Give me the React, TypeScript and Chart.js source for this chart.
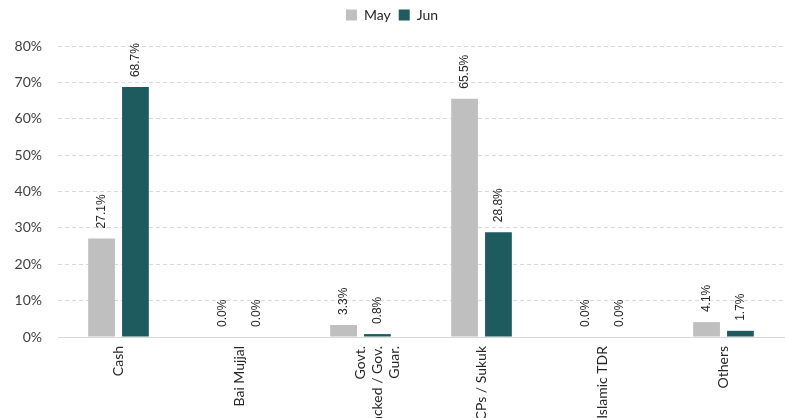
import React, { useEffect, useRef } from "react";
import { Chart, registerables } from "chart.js";

Chart.register(...registerables);

const categories: (string | string[])[] = [
  "Cash",
  "Bai Mujjal",
  ["Govt.", "Backed / Gov.", "Guar."],
  "CPs / Sukuk",
  "Islamic TDR",
  "Others",
];
const mayValues = [27.1, 0.0, 3.3, 65.5, 0.0, 4.1];
const junValues = [68.7, 0.0, 0.8, 28.8, 0.0, 1.7];
const seriesNames = ["May", "Jun"];
const yMax = 80;
const yStep = 10;

const MAY_COLOR = "#BFBFBF";
const JUN_COLOR = "#1D5B5E";

const legendSpacePlugin = {
  id: "legendSpace",
  beforeInit(chart: any) {
    const legend = chart.legend;
    if (legend && !legend._patched) {
      const orig = legend.fit;
      legend.fit = function () {
        orig.call(this);
        this.height += 14;
      };
      legend._patched = true;
    }
  },
};

const dataLabelPlugin = {
  id: "rotatedDataLabels",
  afterDatasetsDraw(chart: any) {
    const ctx = chart.ctx;
    ctx.save();
    ctx.font = "12px 'Liberation Sans', Arial, sans-serif";
    ctx.fillStyle = "#262626";
    ctx.textAlign = "left";
    ctx.textBaseline = "middle";
    chart.data.datasets.forEach((ds: any, di: number) => {
      const meta = chart.getDatasetMeta(di);
      meta.data.forEach((el: any, i: number) => {
        const v = ds.data[i];
        const text = Number(v).toFixed(1) + "%";
        ctx.save();
        ctx.translate(el.x, el.y - 10);
        ctx.rotate(-Math.PI / 2);
        ctx.fillText(text, 0, 0);
        ctx.restore();
      });
    });
    ctx.restore();
  },
};

export default function App() {
  const ref = useRef<HTMLCanvasElement | null>(null);

  useEffect(() => {
    if (!ref.current) return;
    const chart = new Chart(ref.current, {
      type: "bar",
      data: {
        labels: categories as any,
        datasets: [
          {
            label: seriesNames[0],
            data: mayValues,
            backgroundColor: MAY_COLOR,
            categoryPercentage: 0.56,
            barPercentage: 0.79,
          },
          {
            label: seriesNames[1],
            data: junValues,
            backgroundColor: JUN_COLOR,
            categoryPercentage: 0.56,
            barPercentage: 0.79,
          },
        ],
      },
      options: {
        responsive: false,
        animation: false,
        layout: { padding: { left: 0, right: 1, top: 0, bottom: 0 } },
        plugins: {
          tooltip: { enabled: false },
          legend: {
            position: "top",
            align: "center",
            labels: {
              boxWidth: 11,
              boxHeight: 11,
              padding: 8,
              color: "#262626",
              font: { family: "Lato, 'Open Sans', sans-serif", size: 14 },
            },
          },
        },
        scales: {
          x: {
            grid: { display: false, drawTicks: false },
            border: { display: true, color: "#D9D9D9", width: 1 },
            ticks: {
              autoSkip: false,
              minRotation: 90,
              maxRotation: 90,
              padding: 9,
              color: "#262626",
              font: { family: "Lato, 'Open Sans', sans-serif", size: 14 },
            },
            afterFit(scale: any) {
              scale.height = 81;
            },
          },
          y: {
            min: 0,
            max: yMax,
            grid: { color: "#D9D9D9", drawTicks: false, lineWidth: 1 },
            border: { display: false, dash: [4, 3] },
            ticks: {
              stepSize: yStep,
              padding: 16,
              color: "#404040",
              font: { family: "Lato, 'Open Sans', sans-serif", size: 14 },
              callback: (v: any) => v + "%",
            },
            afterFit(scale: any) {
              scale.width = 58;
            },
          },
        },
      },
      plugins: [legendSpacePlugin, dataLabelPlugin],
    });
    return () => chart.destroy();
  }, []);

  return (
    <div style={{ position: "fixed", left: 0, top: 0, width: 785, height: 418, background: "#fff" }}>
      <canvas ref={ref} width={785} height={418} style={{ width: 785, height: 418, display: "block" }} />
    </div>
  );
}
